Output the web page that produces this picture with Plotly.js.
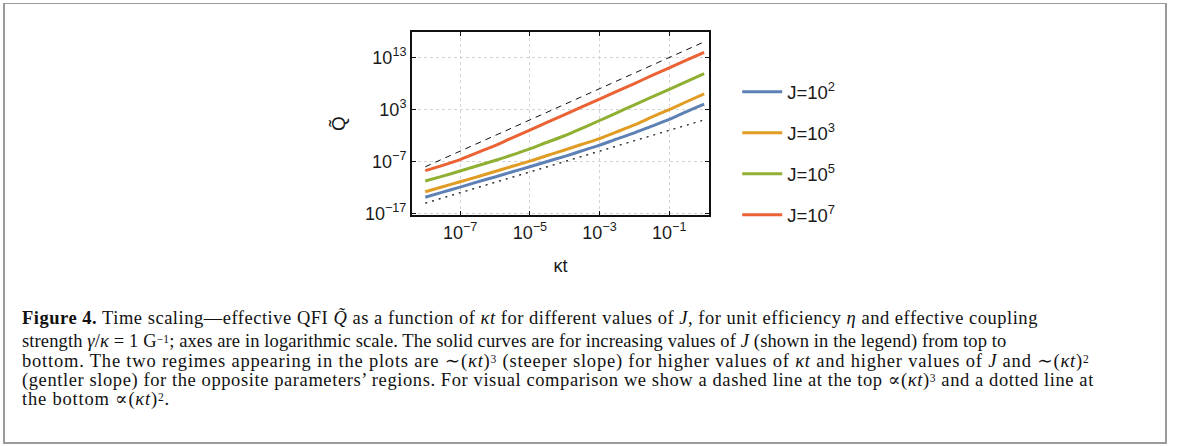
<!DOCTYPE html>
<html>
<head>
<meta charset="utf-8">
<script src="https://cdn.plot.ly/plotly-3.0.1.min.js"></script>
<style>
  html, body { margin: 0; padding: 0; background: #fff; }
  #wrap { position: relative; width: 1179px; height: 446px; overflow: hidden; }
  #chart { position: absolute; left: 0; top: 0; width: 1179px; height: 446px; }
  #frame { position: absolute; left: 3px; top: 3px; width: 1160px; height: 438px;
           border: 2px solid #9a9a9a; border-top-width: 1px; pointer-events: none; }
  .cap { position: absolute; left: 22px; font-family: "Liberation Serif", "DejaVu Serif", serif;
         font-size: 18.5px; line-height: 18px; color: #111; white-space: nowrap; }
  .cap sup { font-size: 11.5px; line-height: 0; vertical-align: 4px; }
</style>
</head>
<body>
<div id="wrap">
  <div id="chart"></div>
  <div class="cap" style="top:309px; letter-spacing:0.52px"><b>Figure 4.</b> Time scaling—effective QFI <i>Q̃</i> as a function of <i>κt</i> for different values of <i>J</i>, for unit efficiency <i>η</i> and effective coupling</div>
  <div class="cap" style="top:332px; letter-spacing:0.12px">strength <i>γ</i>/<i>κ</i> = 1 G<sup>−1</sup>; axes are in logarithmic scale. The solid curves are for increasing values of <i>J</i> (shown in the legend) from top to</div>
  <div class="cap" style="top:352px; letter-spacing:0.8px">bottom. The two regimes appearing in the plots are ∼(<i>κt</i>)<sup>3</sup> (steeper slope) for higher values of <i>κt</i> and higher values of <i>J</i> and ∼(<i>κt</i>)<sup>2</sup></div>
  <div class="cap" style="top:371px; letter-spacing:0.59px">(gentler slope) for the opposite parameters’ regions. For visual comparison we show a dashed line at the top ∝(<i>κt</i>)<sup>3</sup> and a dotted line at</div>
  <div class="cap" style="top:390px; letter-spacing:0.8px">the bottom ∝(<i>κt</i>)<sup>2</sup>.</div>
  <div id="frame"></div>
</div>
<script>
// kappa*t sample positions
var kt = [1e-8, 3e-8, 1e-7, 3e-7, 1e-6, 3e-6, 1e-5, 3e-5, 1e-4, 3e-4, 1e-3, 3e-3, 1e-2, 3e-2, 1e-1, 3e-1, 1];
// effective QFI, one array per J
var qJ2 = [1.4e-14, 1.2e-13, 1.2e-12, 1.1e-11, 1.1e-10, 1.0e-9, 1.0e-8, 9.3e-8, 1.0e-6, 1.05e-5, 1.4e-4, 2.0e-3, 3.2e-2, 5.6e-1, 1.26e1, 3.55e2, 1.1e4];
var qJ3 = [1.6e-13, 1.3e-12, 1.3e-11, 1.1e-10, 1.2e-9, 1.1e-8, 1.2e-7, 1.3e-6, 1.7e-5, 1.9e-4, 2.5e-3, 4.5e-2, 1.1e0, 3.0e1, 1.0e3, 2.8e4, 1.0e6];
var qJ5 = [1.8e-11, 1.4e-10, 1.5e-9, 1.4e-8, 1.6e-7, 1.7e-6, 2.7e-5, 4.6e-4, 9.1e-3, 2.2e-1, 7.8e0, 2.1e2, 7.8e3, 2.1e5, 7.8e6, 2.1e8, 7.9e9];
var qJ7 = [1.8e-9, 1.7e-8, 2.4e-7, 4.8e-6, 1.2e-4, 3.3e-3, 1.05e-1, 2.95e0, 1.0e2, 2.8e3, 1.0e5, 2.8e6, 1.0e8, 2.8e9, 1.0e11, 2.8e12, 1.0e14];
var seriesNames = ["J=10<sup>2</sup>", "J=10<sup>3</sup>", "J=10<sup>5</sup>", "J=10<sup>7</sup>"];
var seriesColors = ["#5E81B5", "#E19C24", "#8FB032", "#EB6235"];
// reference power-law guide lines (end points)
var refKt = [1e-8, 1];
var refDashed = [1e-8, 1e16];
var refDotted = [1e-15, 1e1];
// axis ticks
var xTickVals = [1e-7, 1e-5, 1e-3, 1e-1];
var xTickText = ["10<sup>−7</sup>", "10<sup>−5</sup>", "10<sup>−3</sup>", "10<sup>−1</sup>"];
var yTickVals = [1e-17, 1e-7, 1e3, 1e13];
var yTickText = ["10<sup>−17</sup>", "10<sup>−7</sup>", "10<sup>3</sup>", "10<sup>13</sup>"];

var series = [qJ2, qJ3, qJ5, qJ7];
var traces = [];
traces.push({x: refKt, y: refDashed, mode: "lines", showlegend: false, hoverinfo: "skip",
             line: {color: "#111", width: 1, dash: "6px,5px"}});
traces.push({x: refKt, y: refDotted, mode: "lines", showlegend: false, hoverinfo: "skip",
             line: {color: "#111", width: 1.2, dash: "2px,5px"}});
for (var i = 0; i < series.length; i++) {
  traces.push({x: kt, y: series[i], mode: "lines", name: seriesNames[i], legendgroup: "g" + i,
               line: {color: seriesColors[i], width: 3, shape: "spline", smoothing: 0.6}});
}

var fontFam = "Liberation Sans, Arial, sans-serif";
var axisCommon = {
  type: "log", showline: true, linecolor: "#111", linewidth: 2, mirror: "ticks",
  ticks: "inside", ticklen: 4, tickwidth: 1, tickcolor: "#111",
  showgrid: true, gridcolor: "#d4d4d4", gridwidth: 1, griddash: "dot",
  zeroline: false, tickfont: {family: fontFam, size: 18, color: "#1a1a1a"},
  tickmode: "array"
};

var layout = {
  width: 1179, height: 446,
  margin: {l: 412, r: 470, t: 32, b: 231, pad: 0},
  paper_bgcolor: "#fff", plot_bgcolor: "#fff",
  showlegend: true,
  xaxis: Object.assign({}, axisCommon, {
    range: [-8.38, 0.14], tickvals: xTickVals, ticktext: xTickText,
    title: {text: "κt", font: {family: fontFam, size: 18, color: "#1a1a1a"}, standoff: 18}
  }),
  yaxis: Object.assign({}, axisCommon, {
    range: [-17.27, 17.9], tickvals: yTickVals, ticktext: yTickText,
    title: {text: "Q̃", font: {family: fontFam, size: 19, color: "#1a1a1a"}, standoff: 14}
  }),
  legend: {
    x: 1.095, xanchor: "left", y: 0.775, yanchor: "top",
    font: {family: fontFam, size: 18.5, color: "#1a1a1a"},
    tracegroupgap: 14, itemwidth: 40, bgcolor: "rgba(0,0,0,0)"
  }
};

Plotly.newPlot("chart", traces, layout, {staticPlot: true, displayModeBar: false});
</script>
</body>
</html>
